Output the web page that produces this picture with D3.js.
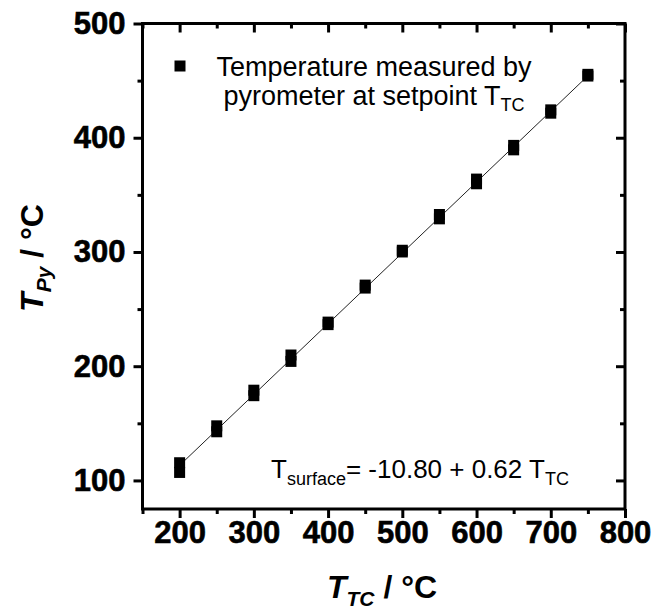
<!DOCTYPE html>
<html>
<head>
<meta charset="utf-8">
<script src="https://cdn.jsdelivr.net/npm/d3@7"></script>
<style>
  body { margin: 0; background: #fff; }
  text { font-family: "Liberation Sans", Arial, sans-serif; }
</style>
</head>
<body>
<div id="app"></div>
<script>
(function (d3) {

  'use strict'

  // setpoint of the thermocouple, two pyrometer readings per setpoint
  const setpoints = [200, 250, 300, 350, 400, 450, 500, 550, 600, 650, 700, 750]
  const readingsA = [115.5, 147.8, 179.0, 209.8, 238.6, 271.0, 301.5, 332.8, 363.8, 393.3, 424.4, 455.5]
  const readingsB = [107.0, 142.6, 174.2, 204.2, 236.4, 268.4, 300.0, 329.0, 359.7, 389.4, 421.5, 454.0]

  // linear fit shown on the chart
  const fitIntercept = -10.80
  const fitSlope = 0.62
  const fitRange = [200, 750]

  const xMajor = [200, 300, 400, 500, 600, 700, 800]
  const xMinor = [150, 250, 350, 450, 550, 650, 750]
  const yMajor = [100, 200, 300, 400, 500]
  const yMinor = [150, 250, 350, 450]

  const w = 656
  const h = 612
  const left = 142.5, right = 625, top = 23.5, bottom = 509

  const svg = d3.select('#app')
    .append('svg')
    .attr('width', w)
    .attr('height', h)

  const x = d3.scaleLinear().domain([150, 800]).range([left, right])
  const y = d3.scaleLinear().domain([75, 500]).range([bottom, top])

  const styleAxis = g => {
    g.select('.domain').remove()
    g.selectAll('line').attr('stroke', '#000').attr('stroke-width', 3)
    g.selectAll('text')
      .attr('fill', '#000')
      .attr('stroke', '#000')
      .attr('stroke-width', 0.6)
      .style('font-size', '31px')
      .style('font-weight', 'bold')
  }

  // bottom
  svg.append('g').attr('transform', `translate(0,${bottom})`)
    .call(d3.axisBottom(x).tickValues(xMajor).tickSize(9).tickPadding(3).tickFormat(d3.format('d')))
    .call(styleAxis)
  svg.append('g').attr('transform', `translate(0,${bottom})`)
    .call(d3.axisBottom(x).tickValues(xMinor).tickSize(5).tickFormat(''))
    .call(styleAxis)
  // top (inward)
  svg.append('g').attr('transform', `translate(0,${top})`)
    .call(d3.axisTop(x).tickValues(xMajor).tickSize(-9).tickFormat(''))
    .call(styleAxis)
  svg.append('g').attr('transform', `translate(0,${top})`)
    .call(d3.axisTop(x).tickValues(xMinor).tickSize(-5).tickFormat(''))
    .call(styleAxis)
  // left
  svg.append('g').attr('transform', `translate(${left},0)`)
    .call(d3.axisLeft(y).tickValues(yMajor).tickSize(9).tickPadding(8).tickFormat(d3.format('d')))
    .call(styleAxis)
  svg.append('g').attr('transform', `translate(${left},0)`)
    .call(d3.axisLeft(y).tickValues(yMinor).tickSize(5).tickFormat(''))
    .call(styleAxis)
  // right (inward)
  svg.append('g').attr('transform', `translate(${right},0)`)
    .call(d3.axisRight(y).tickValues(yMajor).tickSize(-9).tickFormat(''))
    .call(styleAxis)
  svg.append('g').attr('transform', `translate(${right},0)`)
    .call(d3.axisRight(y).tickValues(yMinor).tickSize(-5).tickFormat(''))
    .call(styleAxis)

  svg.append('rect')
    .attr('x', left).attr('y', top)
    .attr('width', right - left).attr('height', bottom - top)
    .attr('fill', 'none')
    .attr('stroke', '#000')
    .attr('stroke-width', 3)

  // fit line
  svg.append('line')
    .attr('x1', x(fitRange[0])).attr('y1', y(fitIntercept + fitSlope * fitRange[0]))
    .attr('x2', x(fitRange[1])).attr('y2', y(fitIntercept + fitSlope * fitRange[1]))
    .attr('stroke', '#222')
    .attr('stroke-width', 1)

  // points
  const size = 11
  const points = setpoints.flatMap((s, i) => [[s, readingsA[i]], [s, readingsB[i]]])
  svg.append('g')
    .selectAll('rect')
    .data(points)
    .enter()
    .append('rect')
    .attr('x', d => x(d[0]) - size / 2)
    .attr('y', d => y(d[1]) - size / 2)
    .attr('width', size)
    .attr('height', size)
    .attr('fill', '#000')

  // legend
  svg.append('rect')
    .attr('x', 180 - size / 2).attr('y', 66 - size / 2)
    .attr('width', size).attr('height', size)
    .attr('fill', '#000')
  const legend = svg.append('text')
    .attr('text-anchor', 'middle')
    .style('font-size', '27px')
    .attr('fill', '#000')
  legend.append('tspan').attr('x', 374).attr('y', 76).text('Temperature measured by')
  const l2 = legend.append('tspan').attr('x', 374).attr('y', 105)
  l2.append('tspan').text('pyrometer at setpoint T')
  l2.append('tspan').attr('dy', 6).style('font-size', '18px').text('TC')

  // equation
  const eq = svg.append('text')
    .attr('x', 271).attr('y', 478)
    .style('font-size', '26px')
    .attr('fill', '#000')
  eq.append('tspan').text('T')
  eq.append('tspan').attr('dy', 7).style('font-size', '18px').text('surface')
  eq.append('tspan').attr('dy', -7).text('= -10.80 + 0.62 T')
  eq.append('tspan').attr('dy', 7).style('font-size', '18px').text('TC')

  // axis titles
  const xt = svg.append('text')
    .attr('x', 382).attr('y', 598)
    .attr('text-anchor', 'middle')
    .style('font-size', '32px')
    .style('font-weight', 'bold')
    .attr('fill', '#000')
  xt.append('tspan').style('font-style', 'italic').text('T')
  xt.append('tspan').attr('dy', 8).style('font-style', 'italic').style('font-size', '21px').text('TC')
  xt.append('tspan').attr('dy', -8).text(' / °C')

  const yt = svg.append('text')
    .attr('transform', 'translate(43,258) rotate(-90)')
    .attr('text-anchor', 'middle')
    .style('font-size', '32px')
    .style('font-weight', 'bold')
    .attr('fill', '#000')
  yt.append('tspan').style('font-style', 'italic').text('T')
  yt.append('tspan').attr('dy', 8).style('font-style', 'italic').style('font-size', '21px').text('Py')
  yt.append('tspan').attr('dy', -8).text(' / °C')

}(d3))
</script>
</body>
</html>
